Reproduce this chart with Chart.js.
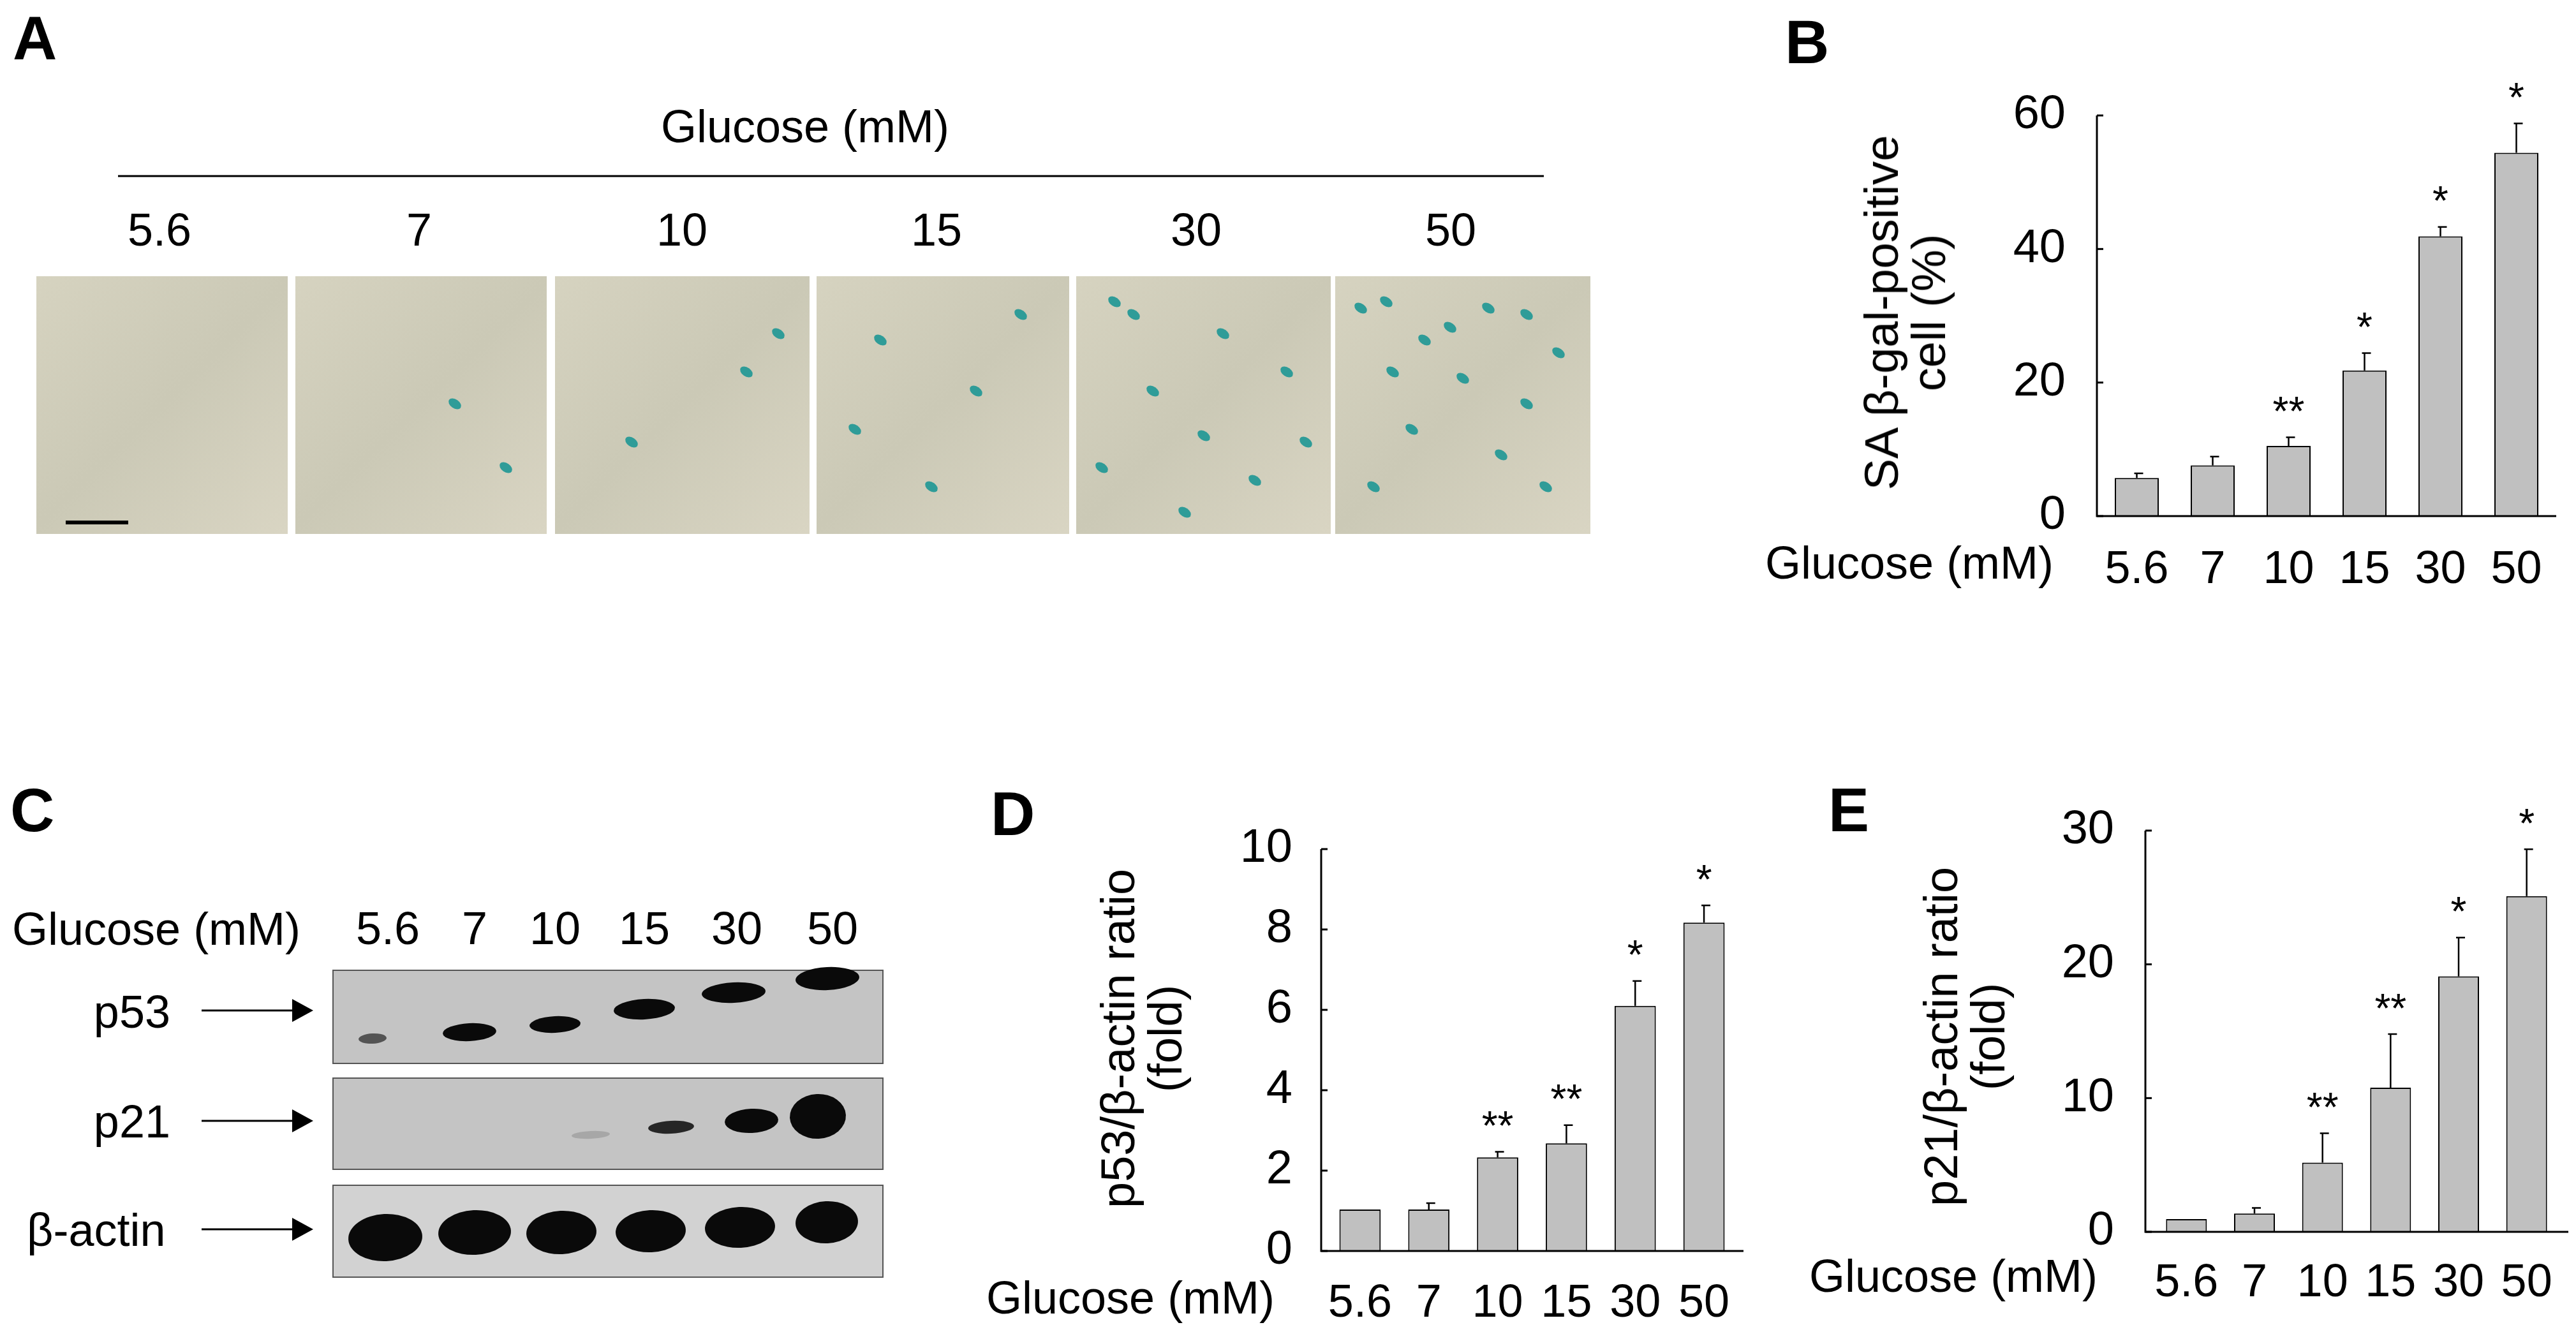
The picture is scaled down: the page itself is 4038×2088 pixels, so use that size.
<!DOCTYPE html>
<html>
<head>
<meta charset="utf-8">
<script src="https://cdn.jsdelivr.net/npm/chart.js@4.4.1/dist/chart.umd.min.js"></script>
<style>
  body { margin: 0; background: #fff; width: 4038px; height: 2088px; position: relative; overflow: hidden;
         font-family: "Liberation Sans", Arial, sans-serif; color: #000; }
  .t { position: absolute; white-space: nowrap; font-size: 72px; line-height: 1; }
  .c { transform: translate(-50%, -50%); }
  .panel { position: absolute; font-size: 96px; font-weight: bold; line-height: 1; }
  .rot { position: absolute; transform: translate(-50%, -50%) rotate(-90deg); text-align: center;
         font-size: 74px; line-height: 1.0; white-space: nowrap; }
  canvas { position: absolute; }
</style>
</head>
<body>
<canvas id="bg" width="4038" height="2088" style="left:0;top:0"></canvas>
<canvas id="chartB" style="left:2750px;top:0px"></canvas>
<canvas id="chartD" style="left:1450px;top:1180px"></canvas>
<canvas id="chartE" style="left:2800px;top:1180px"></canvas>

<div class="panel" style="left:20px;top:12px">A</div>
<div class="panel" style="left:2798px;top:18px">B</div>
<div class="panel" style="left:16px;top:1222px">C</div>
<div class="panel" style="left:1553px;top:1228px">D</div>
<div class="panel" style="left:2866px;top:1222px">E</div>

<div class="t c" style="left:1262px;top:198px">Glucose (mM)</div>
<div id="laneA"></div>

<div class="t" style="left:19px;top:1420px">Glucose (mM)</div>
<div id="laneC"></div>
<div class="t" style="right:3771px;top:1550px">p53</div>
<div class="t" style="right:3771px;top:1722px">p21</div>
<div class="t" style="left:42px;top:1892px">β-actin</div>

<div class="rot" style="left:2987px;top:490px">SA β-gal-positive<br>cell (%)</div>
<div class="t" style="left:2767px;top:846px">Glucose (mM)</div>
<div class="rot" style="left:1790px;top:1628px">p53/β-actin ratio<br>(fold)</div>
<div class="t" style="left:1546px;top:1998px">Glucose (mM)</div>
<div class="rot" style="left:3080px;top:1625px">p21/β-actin ratio<br>(fold)</div>
<div class="t" style="left:2836px;top:1964px">Glucose (mM)</div>

<script>
// data
const glucose = ['5.6', '7', '10', '15', '30', '50'];
const sagalMean = [5.7, 7.6, 10.5, 21.8, 41.9, 54.4];
const sagalErr = [0.7, 1.3, 1.3, 2.6, 1.4, 4.4];
const sagalSig = ['', '', '**', '*', '*', '*'];
const p53Mean = [1.03, 1.03, 2.33, 2.68, 6.10, 8.17];
const p53Err = [0, 0.16, 0.14, 0.45, 0.62, 0.43];
const p53Sig = ['', '', '**', '**', '*', '*'];
const p21Mean = [0.95, 1.37, 5.17, 10.78, 19.1, 25.1];
const p21Err = [0, 0.42, 2.2, 4.0, 2.9, 3.5];
const p21Sig = ['', '', '**', '**', '*', '*'];

// lane labels for the image panels
const laneAX = [250, 657, 1069, 1468, 1875, 2274];
const laneCX = [608, 744, 870, 1010, 1155, 1305];
laneAX.forEach((x, i) => {
  document.getElementById('laneA').insertAdjacentHTML('beforeend',
    '<div class="t c" style="left:' + x + 'px;top:360px">' + glucose[i] + '</div>');
});
laneCX.forEach((x, i) => {
  document.getElementById('laneC').insertAdjacentHTML('beforeend',
    '<div class="t c" style="left:' + x + 'px;top:1455px">' + glucose[i] + '</div>');
});

// background drawings: micrographs (A) and blots (C)
const g = document.getElementById('bg').getContext('2d');
g.strokeStyle = '#000'; g.lineWidth = 3;
g.beginPath(); g.moveTo(185, 276); g.lineTo(2420, 276); g.stroke();
const tiles = [[57, 451], [463, 857], [870, 1269], [1280, 1676], [1687, 2086], [2093, 2493]];
const spots = [
  [],
  [[330, 300], [250, 200]],
  [[300, 150], [120, 260], [350, 90]],
  [[100, 100], [250, 180], [320, 60], [180, 330], [60, 240]],
  [[60, 40], [90, 60], [330, 150], [200, 250], [280, 320], [120, 180], [360, 260], [40, 300], [230, 90], [170, 370]],
  [[40, 50], [80, 40], [140, 100], [300, 60], [350, 120], [200, 160], [120, 240], [260, 280], [330, 330], [60, 330], [240, 50], [180, 80], [300, 200], [90, 150]]
];
tiles.forEach((t, i) => {
  const grad = g.createLinearGradient(t[0], 433, t[1], 837);
  grad.addColorStop(0, '#d6d3c0'); grad.addColorStop(0.5, '#cbc9b6'); grad.addColorStop(1, '#d9d5c3');
  g.fillStyle = grad; g.fillRect(t[0], 433, t[1] - t[0], 404);
  g.fillStyle = '#2f9c98';
  spots[i].forEach(s => { g.beginPath(); g.ellipse(t[0] + s[0], 433 + s[1], 11, 7, 0.6, 0, 2 * Math.PI); g.fill(); });
});
g.strokeStyle = '#000'; g.lineWidth = 6; g.beginPath(); g.moveTo(103, 819); g.lineTo(201, 819); g.stroke();

const boxes = [[1521, 1667], [1690, 1833], [1858, 2002]];
boxes.forEach((b, i) => {
  g.fillStyle = i === 2 ? '#d2d2d2' : '#c4c4c4';
  g.fillRect(522, b[0], 862, b[1] - b[0]);
  g.strokeStyle = '#555'; g.lineWidth = 2; g.strokeRect(522, b[0], 862, b[1] - b[0]);
});
const arrowsY = [1584, 1757, 1927];
g.fillStyle = '#000'; g.strokeStyle = '#000';
arrowsY.forEach(y => {
  g.lineWidth = 3; g.beginPath(); g.moveTo(316, y); g.lineTo(470, y); g.stroke();
  g.beginPath(); g.moveTo(491, y); g.lineTo(458, y - 18); g.lineTo(458, y + 18); g.closePath(); g.fill();
});
function band(x, y, w, h, a) {
  g.fillStyle = 'rgba(10,10,10,' + a + ')';
  g.beginPath(); g.ellipse(x, y, w / 2, h / 2, -0.05, 0, 2 * Math.PI); g.fill();
}
const p53Bands = [[584, 1628, 44, 16, 0.6], [736, 1618, 84, 28, 1], [870, 1606, 80, 26, 1], [1010, 1582, 96, 32, 1], [1150, 1556, 100, 32, 1], [1297, 1534, 100, 36, 1]];
p53Bands.forEach(b => band(...b));
const p21Bands = [[926, 1779, 60, 12, 0.15], [1052, 1767, 72, 20, 0.85], [1178, 1757, 84, 38, 1], [1282, 1750, 88, 70, 1]];
p21Bands.forEach(b => band(...b));
const actinBands = [[604, 1940, 116, 74, 1], [744, 1932, 114, 70, 1], [880, 1932, 110, 68, 1], [1020, 1930, 110, 66, 1], [1160, 1924, 110, 64, 1], [1296, 1916, 98, 66, 1]];
actinBands.forEach(b => band(...b));

// charts
const errPlugin = {
  id: 'errbars',
  afterDatasetsDraw(chart, args, o) {
    const ctx = chart.ctx, y = chart.scales.y, x = chart.scales.x, a = chart.chartArea;
    ctx.save();
    ctx.strokeStyle = '#000'; ctx.lineWidth = 3;
    ctx.beginPath(); ctx.moveTo(o.axisX, y.getPixelForValue(o.max)); ctx.lineTo(o.axisX, a.bottom);
    ctx.lineTo(o.axisRight, a.bottom); ctx.stroke();
    for (let v = 0; v <= o.max; v += o.step) {
      const py = y.getPixelForValue(v);
      ctx.beginPath(); ctx.moveTo(o.axisX, py); ctx.lineTo(o.axisX + 10, py); ctx.stroke();
    }
    ctx.lineWidth = 2.5;
    ctx.font = '64px "Liberation Sans"'; ctx.textAlign = 'center'; ctx.textBaseline = 'middle';
    ctx.fillStyle = '#000';
    o.mean.forEach((m, i) => {
      const cx = x.getPixelForValue(i);
      const top = y.getPixelForValue(m + o.err[i]);
      if (o.err[i] > 0) {
        ctx.beginPath(); ctx.moveTo(cx, y.getPixelForValue(m)); ctx.lineTo(cx, top);
        ctx.moveTo(cx - 4, top); ctx.lineTo(cx + 10, top); ctx.stroke();
      }
      if (o.sig[i]) ctx.fillText(o.sig[i], cx, top - 36);
    });
    ctx.restore();
  }
};

function makeChart(id, mean, err, sig, max, step, d) {
  const cv = document.getElementById(id);
  cv.width = d.w; cv.height = d.h;
  return new Chart(cv, {
    type: 'bar',
    data: {
      labels: glucose,
      datasets: [{ data: mean, backgroundColor: '#c0c0c0', borderColor: '#000', borderWidth: 2,
                   barPercentage: d.bar, categoryPercentage: 1 }]
    },
    options: {
      responsive: false, animation: false, devicePixelRatio: 1,
      layout: { padding: { left: 0, top: d.top, right: d.right, bottom: 0 } },
      plugins: { legend: { display: false }, tooltip: { enabled: false },
        errbars: { mean: mean, err: err, sig: sig, max: max, step: step, axisX: d.axisX, axisRight: d.axisRight } },
      scales: {
        x: { grid: { display: false }, border: { display: false },
             ticks: { color: '#000', font: { size: 72, family: 'Liberation Sans' }, padding: d.xpad,
                      maxRotation: 0, autoSkip: false },
             afterFit: s => { s.height = d.xh; } },
        y: { min: 0, max: max, grid: { display: false }, border: { display: false },
             ticks: { stepSize: step, color: '#000', font: { size: 74, family: 'Liberation Sans' }, padding: d.ypad },
             afterFit: s => { s.width = d.yw; } }
      }
    },
    plugins: [errPlugin]
  });
}

// B: canvas at (2750,0) 1288x950, area x 3290..4004, y 181..809
makeChart('chartB', sagalMean, sagalErr, sagalSig, 60, 20,
  { w: 1288, h: 950, top: 181, right: 1288 - (4004 - 2750), yw: 3290 - 2750, xh: 950 - 809,
    bar: 0.58, xpad: 34, ypad: 44, axisX: 3287 - 2750, axisRight: 4007 - 2750 });
// D: canvas at (1450,1180) 1330x908, area x 2078..2725, y 1331..1961
makeChart('chartD', p53Mean, p53Err, p53Sig, 10, 2,
  { w: 1330, h: 908, top: 1331 - 1180, right: 1330 - (2725 - 1450), yw: 2078 - 1450, xh: 908 - (1961 - 1180),
    bar: 0.6, xpad: 32, ypad: 44, axisX: 2071 - 1450, axisRight: 2733 - 1450 });
// E: canvas at (2800,1180) 1238x908, area x 3374..4014, y 1302..1931
makeChart('chartE', p21Mean, p21Err, p21Sig, 30, 10,
  { w: 1238, h: 908, top: 1302 - 1180, right: 1238 - (4014 - 2800), yw: 3374 - 2800, xh: 908 - (1931 - 1180),
    bar: 0.6, xpad: 30, ypad: 52, axisX: 3363 - 2800, axisRight: 4026 - 2800 });
</script>
</body>
</html>
